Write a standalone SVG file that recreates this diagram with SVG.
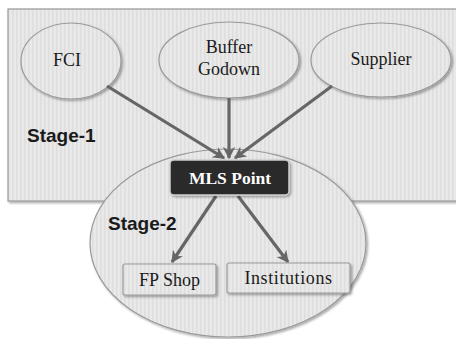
<svg xmlns="http://www.w3.org/2000/svg" width="456" height="339" viewBox="0 0 456 339">
<defs>
<pattern id="stripes" width="4" height="4" patternUnits="userSpaceOnUse">
<rect width="4" height="4" fill="#e9e9e9"/>
<rect width="1.5" height="4" fill="#dedede"/>
</pattern>
<filter id="sh" x="-10%" y="-10%" width="130%" height="130%">
<feDropShadow dx="1.5" dy="1.5" stdDeviation="1.2" flood-color="#000" flood-opacity="0.35"/>
</filter>
<marker id="ah" viewBox="0 0 10 10" refX="9" refY="5" markerWidth="3.8" markerHeight="3.8" orient="auto" markerUnits="strokeWidth">
<path d="M0,0 L10,5 L0,10 L3,5 z" fill="#666666"/>
</marker>
<style>
.shape{fill:url(#stripes);stroke:#9a9a9a;stroke-width:1.2;filter:url(#sh)}
.lbl{font-family:"Liberation Serif",serif;font-size:18px;fill:#1a1a1a;text-anchor:middle}
.stage{font-family:"Liberation Sans",Arial,sans-serif;font-size:19px;font-weight:bold;fill:#1a1a1a}
.conn{stroke:#666666;stroke-width:3.2;fill:none;marker-end:url(#ah)}
</style>
</defs>
<rect width="456" height="339" fill="#ffffff"/>
<g id="stage1">
<rect class="shape" x="8" y="9" width="452" height="192"/>
<text class="stage" x="27" y="142">Stage-1</text>
</g>
<g id="stage2">
<ellipse class="shape" cx="228" cy="243" rx="138" ry="94"/>
<text class="stage" x="108" y="230">Stage-2</text>
</g>
<g id="fci">
<ellipse class="shape" cx="71" cy="61" rx="50" ry="38"/>
<text class="lbl" x="67" y="66">FCI</text>
</g>
<g id="buffer">
<ellipse class="shape" cx="229" cy="60" rx="70" ry="38"/>
<text class="lbl" x="229" y="53">Buffer</text>
<text class="lbl" x="229" y="75">Godown</text>
</g>
<g id="supplier">
<ellipse class="shape" cx="381" cy="60" rx="70" ry="37"/>
<text class="lbl" x="381" y="65">Supplier</text>
</g>
<g id="connectors">
<line class="conn" x1="107" y1="86" x2="224" y2="158"/>
<line class="conn" x1="229" y1="98" x2="229" y2="158"/>
<line class="conn" x1="332" y1="86" x2="235" y2="158"/>
<line class="conn" x1="216" y1="196" x2="172" y2="262"/>
<line class="conn" x1="238" y1="196" x2="288" y2="262"/>
</g>
<g id="mls">
<rect x="170" y="160" width="119" height="35" rx="4" fill="#2a2a2a" stroke="#cfcfcf" stroke-width="1.5" filter="url(#sh)"/>
<text x="230" y="184" font-family="'Liberation Serif',serif" font-size="17.5" font-weight="bold" fill="#ffffff" text-anchor="middle">MLS Point</text>
</g>
<g id="fpshop">
<rect class="shape" x="123" y="264" width="93" height="31" rx="2"/>
<text class="lbl" x="169.5" y="286">FP Shop</text>
</g>
<g id="institutions">
<rect class="shape" x="227" y="263" width="123" height="30" rx="2"/>
<text class="lbl" x="288.5" y="284" letter-spacing="0.6">Institutions</text>
</g>
</svg>
